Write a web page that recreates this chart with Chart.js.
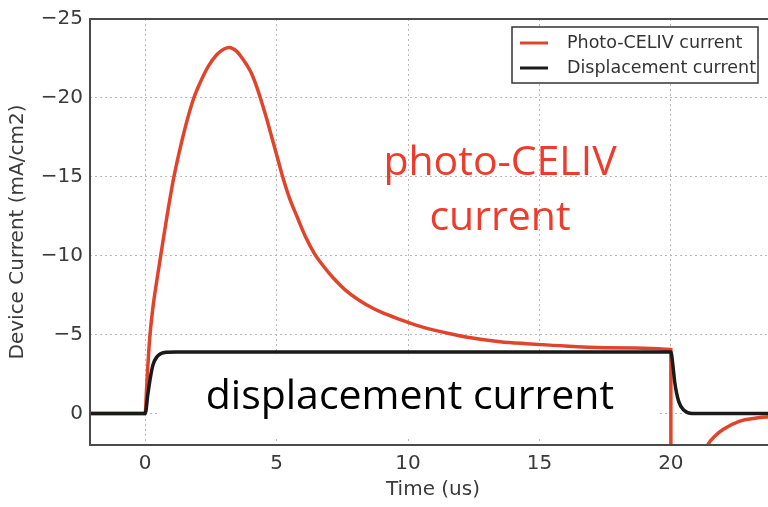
<!DOCTYPE html>
<html>
<head>
<meta charset="utf-8">
<script src="https://cdn.jsdelivr.net/npm/chart.js@4.4.1/dist/chart.umd.min.js"></script>
<style>
  html, body { margin: 0; padding: 0; background: #fff; }
  #wrap { width: 768px; height: 507px; overflow: hidden; }
  canvas { display: block; }
</style>
</head>
<body>
<div id="wrap"><canvas id="chart" width="778" height="507"></canvas></div>
<script>
// Photo-CELIV trace: time (us) / current (mA/cm2)
const celivTime = [-2.1, 0, 0.05, 0.1, 0.15, 0.2, 0.3, 0.45, 0.6, 0.8, 1.07, 1.3, 1.55, 1.83, 2.1, 2.4, 2.73, 3.0, 3.2, 3.45, 3.7, 4.0, 4.2, 4.4, 4.6, 4.8, 5.0, 5.23, 5.5, 5.77, 6.1, 6.45, 6.8, 7.15, 7.7, 8.4, 9.0, 9.7, 10.3, 10.95, 11.6, 12.2, 13.5, 14.5, 15.4, 17.5, 20, 20.001, 21.0, 21.4, 21.7, 22.0, 22.6, 23.2, 24.2];
const celivCurrent = [0, 0, -1.5, -3.0, -4.3, -5.3, -6.8, -8.5, -10.1, -12.2, -14.8, -16.6, -18.3, -19.9, -21.0, -22.0, -22.75, -23.1, -23.2, -23.0, -22.5, -21.7, -20.9, -19.9, -18.8, -17.6, -16.4, -15.0, -13.6, -12.5, -11.2, -10.1, -9.3, -8.6, -7.7, -6.9, -6.4, -5.95, -5.6, -5.3, -5.05, -4.85, -4.55, -4.42, -4.33, -4.17, -4.05, 8, 3.6, 2.0, 1.4, 1.0, 0.5, 0.3, 0.15];

// Displacement trace
const dispTime = [-2.1, 0, 0.1, 0.2, 0.3, 0.45, 0.6, 0.8, 1.2, 20, 20.08, 20.15, 20.3, 20.5, 20.8, 24.2];
const dispCurrent = [0, 0, -1.2, -2.3, -3.1, -3.6, -3.8, -3.88, -3.9, -3.9, -3.0, -1.95, -0.75, -0.2, 0, 0];

const xTicks = [0, 5, 10, 15, 20];
const yTicks = [-25, -20, -15, -10, -5, 0];
const seriesNames = ['Photo-CELIV current', 'Displacement current'];

const toPoints = (xs, ys) => xs.map((t, i) => ({ x: t, y: ys[i] }));
const minus = v => v < 0 ? '\u2212' + Math.abs(v) : String(v);

// white panel, frame, text labels and the in-plot legend
const overlay = {
    id: 'overlay',
    beforeDatasetsDraw(chart) {
        const { ctx, scales: { x, y } } = chart;
        const l = x.getPixelForValue(0.5), r = x.getPixelForValue(19.5);
        const t = y.getPixelForValue(-3.75), b = y.getPixelForValue(1.55);
        ctx.save();
        ctx.fillStyle = '#fff';
        ctx.beginPath();
        ctx.roundRect(l, t, r - l, b - t, 10);
        ctx.fill();
        ctx.restore();
    },
    afterDatasetsDraw(chart) {
        const { ctx, chartArea: a, scales: { x, y } } = chart;
        ctx.save();
        ctx.strokeStyle = '#4a4a4a';
        ctx.lineWidth = 2;
        ctx.strokeRect(a.left, a.top, a.right - a.left, a.bottom - a.top);

        ctx.font = '41px "Open Sans"';
        ctx.textAlign = 'center';
        ctx.textBaseline = 'alphabetic';
        ctx.fillStyle = '#ef3b2c';
        ctx.fillText('photo-CELIV', x.getPixelForValue(13.5), y.getPixelForValue(-15.1));
        ctx.fillText('current', x.getPixelForValue(13.5), y.getPixelForValue(-11.6));
        ctx.fillStyle = '#000';
        ctx.fillText('displacement current', x.getPixelForValue(10.07), y.getPixelForValue(-0.28));

        // legend box
        const bx = a.right - 264, by = a.top + 8, bw = 246, bh = 56;
        ctx.fillStyle = '#fff';
        ctx.fillRect(bx, by, bw, bh);
        ctx.strokeStyle = '#333';
        ctx.lineWidth = 1.5;
        ctx.strokeRect(bx, by, bw, bh);
        ctx.font = '17.5px "DejaVu Sans"';
        ctx.textAlign = 'left';
        ctx.textBaseline = 'middle';
        chart.data.datasets.forEach((ds, i) => {
            const ry = by + 16 + i * 25;
            ctx.strokeStyle = ds.borderColor;
            ctx.lineWidth = 3;
            ctx.beginPath();
            ctx.moveTo(bx + 8, ry);
            ctx.lineTo(bx + 36, ry);
            ctx.stroke();
            ctx.fillStyle = '#333';
            ctx.fillText(ds.label, bx + 55, ry);
        });
        ctx.restore();
    }
};

new Chart(document.getElementById('chart'), {
    type: 'line',
    data: {
        datasets: [
            {
                label: seriesNames[0],
                data: toPoints(celivTime, celivCurrent),
                borderColor: '#e0452c',
                borderWidth: 3.5,
                pointRadius: 0,
                cubicInterpolationMode: 'monotone',
                order: 1
            },
            {
                label: seriesNames[1],
                data: toPoints(dispTime, dispCurrent),
                borderColor: '#1a1a1a',
                borderWidth: 3.5,
                pointRadius: 0,
                cubicInterpolationMode: 'monotone',
                order: 0
            }
        ]
    },
    options: {
        responsive: false,
        animation: false,
        layout: { padding: { top: 19, right: 2, left: 0, bottom: 0 } },
        plugins: { legend: { display: false }, tooltip: { enabled: false } },
        scales: {
            x: {
                type: 'linear',
                min: -2.1,
                max: 24,
                afterBuildTicks: s => { s.ticks = xTicks.map(v => ({ value: v })); },
                afterFit: s => { s.height = 62; },
                grid: { color: '#b8b8b8', lineWidth: 1, drawTicks: false },
                border: { display: false, dash: [2, 3] },
                ticks: { padding: 7, color: '#3a3a3a', font: { family: 'DejaVu Sans', size: 20 } },
                title: { display: true, text: 'Time (us)', color: '#3a3a3a', padding: { bottom: 5 }, font: { family: 'DejaVu Sans', size: 20 } }
            },
            y: {
                type: 'linear',
                reverse: true,
                min: -25,
                max: 2,
                afterBuildTicks: s => { s.ticks = yTicks.map(v => ({ value: v })); },
                afterFit: s => { s.width = 90; },
                grid: { color: '#b8b8b8', lineWidth: 1, drawTicks: false },
                border: { display: false, dash: [2, 3] },
                ticks: { padding: 7, color: '#3a3a3a', font: { family: 'DejaVu Sans', size: 20 }, callback: v => minus(v) },
                title: { display: true, text: 'Device Current (mA/cm2)', color: '#3a3a3a', padding: { top: 6 }, font: { family: 'DejaVu Sans', size: 20 } }
            }
        }
    },
    plugins: [overlay]
});
</script>
</body>
</html>
